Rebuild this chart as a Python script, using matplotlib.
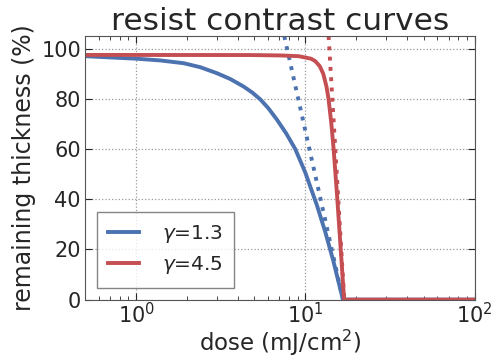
import matplotlib
matplotlib.use("Agg")
import matplotlib.pyplot as plt
import numpy as np

# measured contrast curves: dose (mJ/cm^2) vs remaining thickness (%)
labels = [r'$\gamma$=1.3', r'$\gamma$=4.5']
colours = ['#4C72B0', '#C44E52']

dose_g13 = [0.5, 0.705, 1.0, 1.391, 1.909, 2.395, 3.005, 3.60, 4.313, 4.855, 5.412,
            6.033, 6.789, 7.703, 8.708, 9.973, 11.69, 13.09, 14.59, 16.65, 100]
thick_g13 = [97.0, 96.5, 96.0, 95.3, 94.2, 92.6, 90.2, 87.9, 84.9, 82.5, 79.8,
             76.3, 71.7, 66.2, 60.0, 50.7, 37.6, 27.0, 15.6, 0, 0]

dose_g45 = [0.5, 4.725, 7.10, 9.106, 10.79, 11.44, 12.15, 12.74, 13.30, 13.69,
            14.23, 14.67, 15.43, 16.16, 16.92, 100]
thick_g45 = [97.5, 97.45, 97.3, 97.0, 96.0, 95.0, 93.0, 90.0, 85.0, 80.0,
             70.0, 60.0, 40.0, 20.0, 0, 0]

# straight-line (gamma) fits through the clearing dose
fit_dose_g13 = [7.5, 16.65]
fit_dose_g45 = [13.7, 16.95]
fit_thick = [105, 0]

plt.rcParams['text.color'] = '#262626'
plt.rcParams['axes.labelcolor'] = '#262626'
plt.rcParams['xtick.color'] = '#262626'
plt.rcParams['ytick.color'] = '#262626'

fig, ax = plt.subplots(figsize=(4.92, 3.61), dpi=100)

curves = [(dose_g13, thick_g13, fit_dose_g13), (dose_g45, thick_g45, fit_dose_g45)]
for (d, t, fd), c, lab in zip(curves, colours, labels):
    ax.plot(d, t, color=c, lw=2.8, label=lab, solid_joinstyle='round')
    ax.plot(fd, fit_thick, color=c, lw=2.8, ls=':')

ax.set_xscale('log')
ax.set_xlim(0.5, 100)
ax.set_ylim(0, 105)
ax.set_yticks(np.arange(0, 101, 20))
ax.tick_params(which='both', direction='in', top=True, right=True, labelsize=15)
ax.tick_params(which='major', length=5)
ax.tick_params(which='minor', length=3)
ax.tick_params(axis='x', pad=2)
ax.tick_params(axis='y', pad=3)
ax.grid(True, which='major', color='#999999', ls=':', lw=0.9)
for s in ax.spines.values():
    s.set_color('#555555')

ax.set_xlabel('dose (mJ/cm$^2$)', fontsize=16.5, labelpad=0)
ax.set_ylabel('remaining thickness (%)', fontsize=17, labelpad=4)
ax.set_title('resist contrast curves', fontsize=22.5, pad=4)
leg = ax.legend(loc='lower left', fontsize=14.5, fancybox=False,
                handlelength=1.55, handletextpad=1.1, borderpad=0.55,
                labelspacing=0.45, borderaxespad=0.6)
leg.get_frame().set_edgecolor('#666666')

fig.subplots_adjust(left=0.173, right=0.965, top=0.9, bottom=0.17)
fig.savefig('out.png')
